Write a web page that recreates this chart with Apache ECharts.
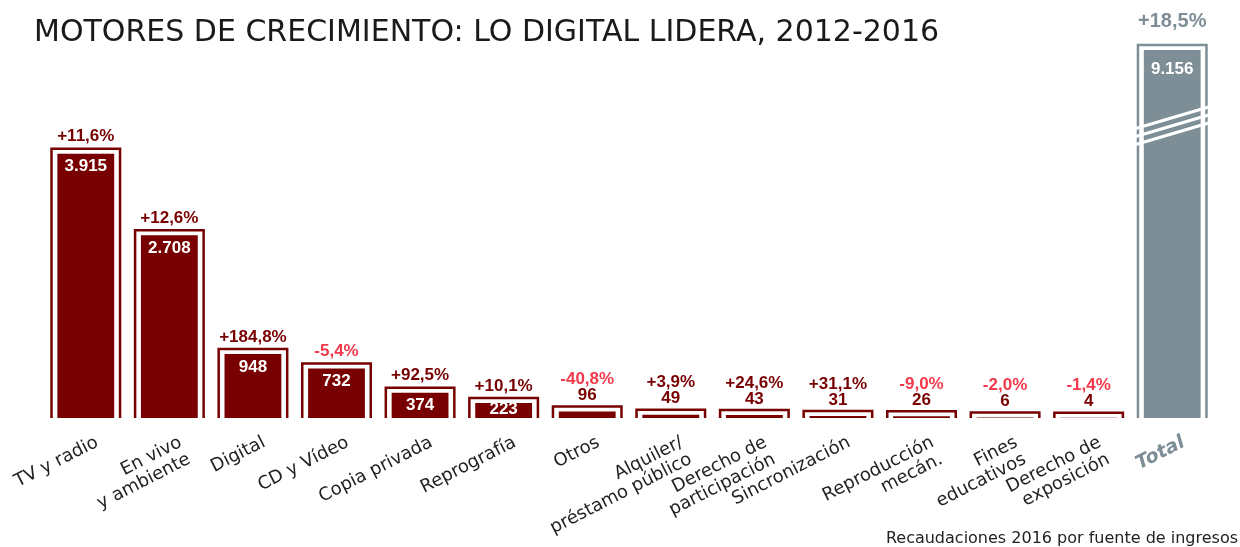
<!DOCTYPE html>
<html>
<head>
<meta charset="utf-8">
<title>Motores de crecimiento</title>
<script src="https://cdn.jsdelivr.net/npm/echarts@6.0.0/dist/echarts.min.js"></script>
<style>
  html, body { margin: 0; padding: 0; background: #fff; }
  #main { width: 1240px; height: 547px; }
</style>
</head>
<body>
<div id="main"></div>
<script>
// data
var categories = [
  'TV y radio', 'En vivo\ny ambiente', 'Digital', 'CD y Vídeo', 'Copia privada',
  'Reprografía', 'Otros', 'Alquiler/\npréstamo público', 'Derecho de\nparticipación',
  'Sincronización', 'Reproducción\nmecán.', 'Fines\neducativos', 'Derecho de\nexposición', 'Total'
]
// recaudaciones 2016 (millones de euros)
var values = [3915, 2708, 948, 732, 374, 223, 96, 49, 43, 31, 26, 6, 4, 9156]
// variación 2012-2016 (%)
var changes = [11.6, 12.6, 184.8, -5.4, 92.5, 10.1, -40.8, 3.9, 24.6, 31.1, -9.0, -2.0, -1.4, 18.5]

// the Total bar is cut with an axis break
var breakStart = 4330
var breakEnd = 8034

var darkRed = '#780000'
var negRed = '#f23a4c'
var grey = '#7d8e96'

function fmtValue (v) {
  return String(v).replace(/\B(?=(\d{3})+(?!\d))/g, '.')
}
function fmtChange (c) {
  return (c >= 0 ? '+' : '-') + Math.abs(c).toFixed(1).replace('.', ',') + '%'
}

var chartDom = document.getElementById('main')
var myChart = echarts.init(chartDom)

function renderItem (params, api) {
  var i = params.dataIndex
  var v = api.value(1)
  var isTotal = i === categories.length - 1
  var base = api.coord([i, 0])
  var top = api.coord([i, v])
  var band = api.size([1, 0])[0]
  var cx = base[0]
  var innerW = band * 0.68
  var outerW = band * 0.82
  var innerTop = top[1]
  var outerTop = innerTop - 5
  var color = isTotal ? grey : darkRed
  var numFont = 'bold 17px "Liberation Sans"'
  var children = []

  // filled bar
  children.push({
    type: 'rect',
    shape: { x: cx - innerW / 2, y: innerTop, width: innerW, height: base[1] - innerTop },
    style: { fill: color }
  })
  // outline box
  children.push({
    type: 'polyline',
    shape: {
      points: [
        [cx - outerW / 2, base[1]],
        [cx - outerW / 2, outerTop],
        [cx + outerW / 2, outerTop],
        [cx + outerW / 2, base[1]]
      ]
    },
    style: { stroke: color, lineWidth: 2.5, fill: null }
  })

  if (isTotal) {
    // white slashes where the axis is cut
    var yc = api.coord([i, breakStart])[1]
    var half = outerW / 2 + 3
    for (var k = -1; k <= 1; k++) {
      children.push({
        type: 'line',
        shape: { x1: cx - half, y1: yc + k * 8 + 11, x2: cx + half, y2: yc + k * 8 - 11 },
        style: { stroke: '#fff', lineWidth: 3 }
      })
    }
    children.push({
      type: 'text',
      x: cx, y: innerTop + 19,
      style: { text: fmtValue(v), fill: '#fff', font: numFont, align: 'center', verticalAlign: 'middle' }
    })
    children.push({
      type: 'text',
      x: cx, y: outerTop - 24,
      style: { text: fmtChange(changes[i]), fill: grey, font: 'bold 20px "Liberation Sans"', align: 'center', verticalAlign: 'middle' }
    })
  } else if (v >= 100) {
    children.push({
      type: 'text',
      x: cx, y: Math.min(innerTop + 13, base[1] - 9),
      style: { text: fmtValue(v), fill: '#fff', font: numFont, align: 'center', verticalAlign: 'middle' }
    })
    children.push({
      type: 'text',
      x: cx, y: outerTop - 12,
      style: { text: fmtChange(changes[i]), fill: changes[i] < 0 ? negRed : darkRed, font: numFont, align: 'center', verticalAlign: 'middle' }
    })
  } else {
    children.push({
      type: 'text',
      x: cx, y: outerTop - 11,
      style: { text: fmtValue(v), fill: darkRed, font: numFont, align: 'center', verticalAlign: 'middle' }
    })
    children.push({
      type: 'text',
      x: cx, y: outerTop - 27,
      style: { text: fmtChange(changes[i]), fill: changes[i] < 0 ? negRed : darkRed, font: numFont, align: 'center', verticalAlign: 'middle' }
    })
  }

  // category label, rotated
  children.push({
    type: 'text',
    x: cx + 7, y: base[1] + 15,
    rotation: 27 * Math.PI / 180,
    style: {
      text: categories[i],
      fill: isTotal ? grey : '#231f20',
      font: isTotal ? 'italic bold 19px "DejaVu Sans"' : '18px "DejaVu Sans"',
      align: 'right',
      verticalAlign: 'top',
      lineHeight: 19
    }
  })

  return { type: 'group', children: children }
}

var option = {
  animation: false,
  title: {
    text: 'MOTORES DE CRECIMIENTO: LO DIGITAL LIDERA, 2012-2016',
    left: 29,
    top: 13,
    textStyle: { fontFamily: 'DejaVu Sans', fontWeight: 'normal', fontSize: 30, color: '#1a1a1a' }
  },
  grid: { left: 44, right: 26, top: 40, bottom: 129 },
  xAxis: {
    type: 'category',
    data: categories,
    show: false
  },
  yAxis: {
    type: 'value',
    min: 0,
    max: 9304,
    show: false,
    breaks: [{ start: breakStart, end: breakEnd, gap: 0 }],
    breakArea: { show: false }
  },
  graphic: [{
    type: 'text',
    right: 2,
    top: 531,
    style: { text: 'Recaudaciones 2016 por fuente de ingresos', fill: '#222', font: '16px "DejaVu Sans"' }
  }],
  series: [{
    type: 'custom',
    clip: false,
    renderItem: renderItem,
    encode: { x: 0, y: 1 },
    data: values.map(function (v, i) { return [i, v] })
  }]
}

option && myChart.setOption(option)
</script>
</body>
</html>
